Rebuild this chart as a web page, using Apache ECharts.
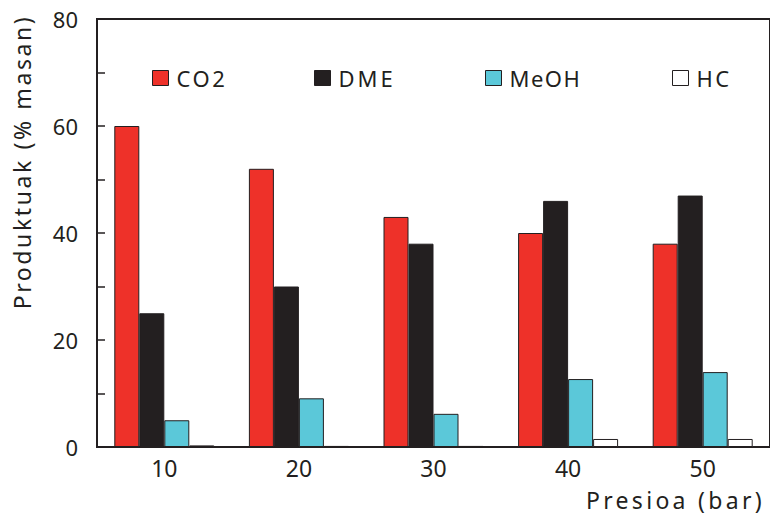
<!DOCTYPE html>
<html><head><meta charset="utf-8">
<script src="https://cdn.jsdelivr.net/npm/echarts@6/dist/echarts.min.js"></script>
<style>html,body{margin:0;padding:0;background:#fff}#c{width:770px;height:515px}</style>
</head><body><div id="c"></div>
<script>
var categories = ['10', '20', '30', '40', '50'];
var seriesNames = ['CO2', 'DME', 'MeOH', 'HC'];
var co2 = [60, 52, 43, 40, 38];
var dme = [25, 30, 38, 46, 47];
var meoh = [5, 9.1, 6.2, 12.7, 14];
var hc = [0.3, 0.2, 0.2, 1.5, 1.5];
var yTicks = [0, 20, 40, 60, 80];
var xTitle = 'Presioa (bar)';
var yTitle = 'Produktuak (% masan)';

var colors = ['#ee3129', '#231f20', '#5bc8d9', '#ffffff'];
var values = [co2, dme, meoh, hc];
var FONT = 'Noto Sans';
var chart = echarts.init(document.getElementById('c'), null, {renderer: 'svg'});
var legendLeft = [147, 309, 480, 667];
chart.setOption({
  animation: false,
  textStyle: {fontFamily: FONT},
  grid: {left: 97, top: 19, width: 682, height: 428, show: true, borderColor: '#231f20', borderWidth: 2, backgroundColor: 'transparent'},
  legend: seriesNames.map(function (n, i) {
    return {data: [n], left: legendLeft[i], top: 62, itemWidth: 16, itemHeight: 15, itemGap: 5,
      textStyle: {fontFamily: FONT, fontSize: 22, color: '#231f20', padding: [2, 0, 0, 3]},
      icon: 'rect', itemStyle: {borderColor: '#231f20', borderWidth: 1}};
  }),
  xAxis: {type: 'category', data: categories,
    axisLine: {show: true, lineStyle: {color: '#231f20', width: 2}},
    axisTick: {show: false},
    axisLabel: {fontSize: 23, color: '#231f20', margin: 9, fontFamily: FONT}},
  yAxis: {type: 'value', min: 0, max: 80, interval: 10,
    axisLine: {show: true, lineStyle: {color: '#231f20', width: 2}},
    axisTick: {show: true, inside: true, length: 8, lineStyle: {color: '#231f20', width: 1.5}},
    splitLine: {show: false},
    axisLabel: {fontSize: 22, color: '#231f20', margin: 19, fontFamily: FONT,
      formatter: function (v) { return yTicks.indexOf(v) >= 0 ? String(v) : ''; }}},
  series: seriesNames.map(function (n, i) {
    return {name: n, type: 'bar', data: values[i], barWidth: 25, barGap: '0%',
      itemStyle: {color: colors[i], borderColor: '#231f20', borderWidth: 1}};
  }),
  graphic: [
    {type: 'text', x: 586, y: 500, style: {text: xTitle, font: '23px "' + FONT + '"', fill: '#231f20', textVerticalAlign: 'middle'}},
    {type: 'text', x: 22, y: 162, rotation: Math.PI / 2, style: {text: yTitle, font: '23px "' + FONT + '"', fill: '#231f20', textAlign: 'center', textVerticalAlign: 'middle'}}
  ]
});
var spacing = {'Presioa (bar)': '3.3px', 'Produktuak (% masan)': '2.6px', 'CO2': '2.5px', 'DME': '3px', 'MeOH': '1.5px', 'HC': '2.5px'};
document.querySelectorAll('#c svg text').forEach(function (t) {
  var s = spacing[t.textContent];
  if (s) t.style.letterSpacing = s;
});
</script></body></html>
